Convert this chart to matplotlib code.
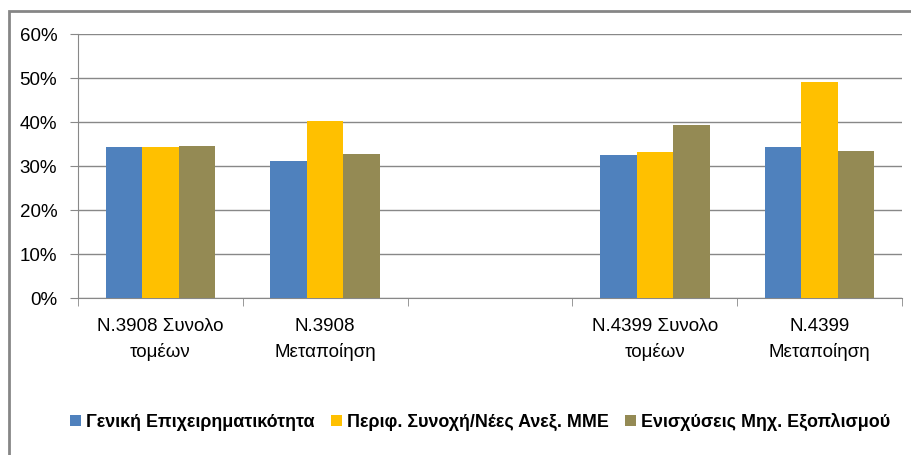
import numpy as np
import matplotlib.pyplot as plt
from matplotlib.patches import Rectangle
from matplotlib.ticker import PercentFormatter, FixedLocator

plt.rcParams['font.family'] = ['Liberation Sans', 'DejaVu Sans']

categories = ["N.3908 Συνολο\nτομέων", "N.3908\nΜεταποίηση", "",
              "N.4399 Συνολο\nτομέων", "N.4399\nΜεταποίηση"]
series = ["Γενική Επιχειρηματικότητα", "Περιφ. Συνοχή/Νέες Ανεξ. ΜΜΕ",
          "Ενισχύσεις Μηχ. Εξοπλισμού"]
general = [34.4, 31.2, np.nan, 32.6, 34.4]
cohesion = [34.4, 40.3, np.nan, 33.3, 49.2]
equipment = [34.6, 32.8, np.nan, 39.4, 33.5]
colors = ["#4F81BD", "#FFC000", "#948A54"]

fig = plt.figure(figsize=(9.12, 4.55), dpi=100)
ax = fig.add_axes([78 / 912, 1 - 298.3 / 455, 824 / 912, 264 / 455])

x = np.arange(len(categories))
w = 0.222
for i, (vals, c, name) in enumerate(zip([general, cohesion, equipment], colors, series)):
    ax.bar(x + (i - 1) * w, vals, w, color=c, label=name, zorder=3)

ax.set_xlim(-0.5, len(categories) - 0.5)
ax.set_ylim(0, 60)
ax.set_yticks(np.arange(0, 61, 10))
ax.yaxis.set_major_formatter(PercentFormatter(decimals=0))
ax.grid(axis='y', color='#888888', lw=1, zorder=0)

ax.set_xticks(x)
ax.set_xticklabels(categories, fontsize=13.5, linespacing=1.6)
ax.tick_params(axis='x', which='major', length=0, pad=14)
ax.xaxis.set_minor_locator(FixedLocator(np.arange(-0.5, len(categories), 1)))
ax.tick_params(axis='x', which='minor', length=6, color='#888888')
ax.tick_params(axis='y', length=6, color='#888888', labelsize=13.5, pad=9)

for s in ['top', 'right']:
    ax.spines[s].set_visible(False)
for s in ['left', 'bottom']:
    ax.spines[s].set_color('#888888')

fig.legend(loc='center left', bbox_to_anchor=(54 / 912, 1 - 422 / 455), ncol=3,
           frameon=False, prop={'weight': 'bold', 'size': 12.9},
           handlelength=0.6, handleheight=0.6, handletextpad=0.3, columnspacing=0.9)

fig.add_artist(Rectangle((9.5 / 912, -0.2), 1.2, 1.2 - 10.5 / 455, transform=fig.transFigure,
                         fill=False, ec='#868686', lw=2))

fig.savefig("out.png", dpi=100)
